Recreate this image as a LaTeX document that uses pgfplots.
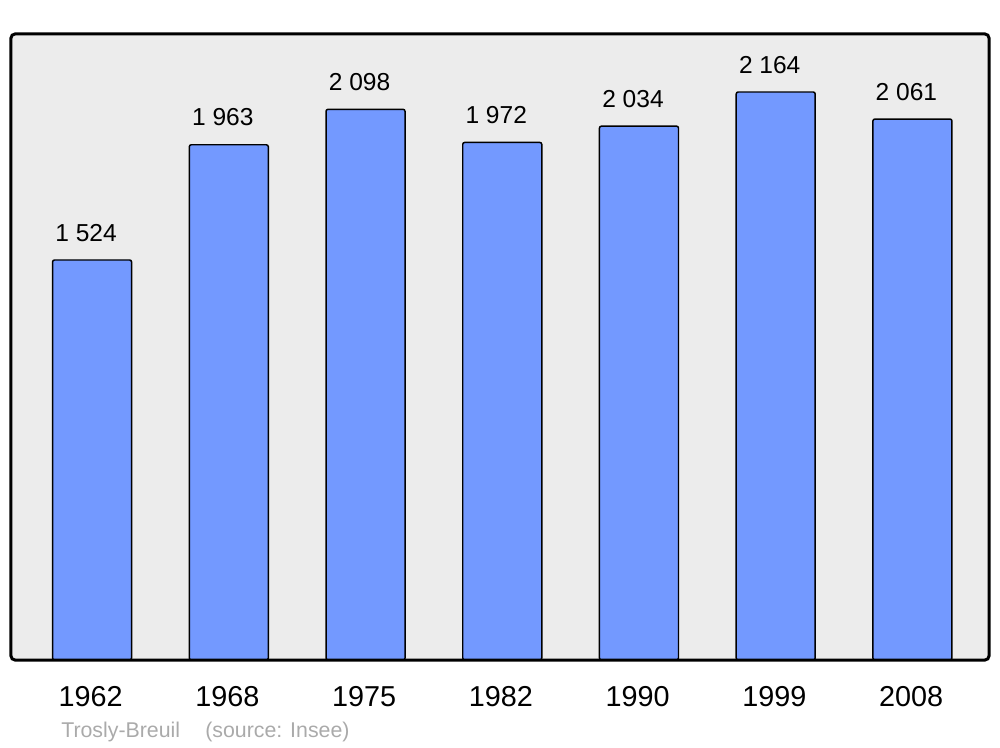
\documentclass[border=0pt]{standalone}
\usepackage{pgfplots}
\pgfplotsset{compat=1.18}
\usepackage{fontspec}
\setmainfont{Liberation Sans}
\definecolor{barblue}{RGB}{115,153,255}
\definecolor{bggray}{RGB}{236,236,236}
\definecolor{srcgray}{RGB}{170,170,170}
\pgfplotstableread{
x year pop
0 1962 1524
1 1968 1963
2 1975 2098
3 1982 1972
4 1990 2034
5 1999 2164
6 2008 2061
}\popdata
\begin{document}
\begin{tikzpicture}
\path[use as bounding box] (-8.25pt,-65.25pt) rectangle (741.75pt,495pt);
\begin{axis}[
  at={(0,0)}, anchor=south west,
  scale only axis,
  width=733.5pt, height=469.5pt,
  xmin=-0.593, xmax=6.56,
  ymin=0, ymax=2385,
  axis line style={draw=none},
  axis background/.style={fill=bggray, rounded corners=3pt},
  major tick length=0pt,
  ytick=\empty,
  xtick={0,1,2,3,4,5,6},
  xticklabels={1962,1968,1975,1982,1990,1999,2008},
  xticklabel style={font=\fontsize{21.6pt}{25pt}\selectfont, anchor=base, inner sep=0pt, yshift=-34.5pt, xshift=-1pt},
  /pgf/number format/assume math mode=true,
  /pgf/number format/1000 sep={\ },
  ybar, bar width=0.578,
  nodes near coords,
  nodes near coords style={font=\fontsize{18.4pt}{22pt}\selectfont, anchor=south, inner sep=0pt, yshift=13.5pt, xshift=-4.5pt, /pgf/number format/1000 sep={\ }},
  clip=false,
]
\addplot[fill=barblue, draw=black, line width=1.1pt, rounded corners=1.5pt] table[x=x, y=pop] {\popdata};
\draw[line width=2.25pt, rounded corners=3pt] (rel axis cs:0,0) rectangle (rel axis cs:1,1);
\end{axis}
\node[anchor=base west, inner sep=0pt, text=srcgray, font=\fontsize{16pt}{19pt}\selectfont] at (37.5pt,-57.75pt) {Trosly-Breuil};
\node[anchor=base west, inner sep=0pt, text=srcgray, font=\fontsize{16pt}{19pt}\selectfont] at (145.5pt,-57.75pt) {(source: Insee)};
\end{tikzpicture}
\end{document}
